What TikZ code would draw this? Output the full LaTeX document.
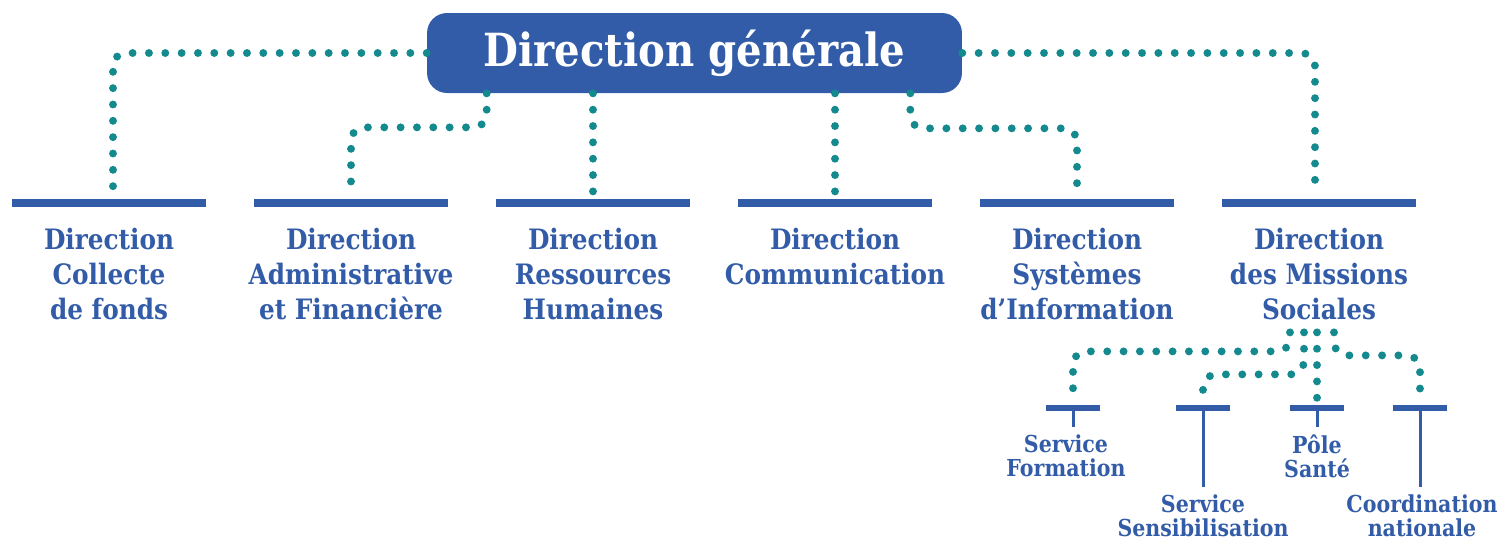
\documentclass[tikz,border=0pt]{standalone}
\usepackage{fontspec}
\setmainfont{DejaVu Serif}[FakeStretch=0.88]
\usetikzlibrary{calc}
\definecolor{bleu}{HTML}{335CA8}
\definecolor{sarcelle}{HTML}{148A8F}
\tikzset{%
	pointille/.style={draw=sarcelle, line width=4.5pt, line cap=round, dash pattern=on 0pt off 9.3pt, rounded corners=0.26cm},%
	titre/.style={fill=bleu, rounded corners=0.4cm, minimum width=10.7cm, minimum height=1.6cm, inner sep=0pt, text=white, font=\bfseries\fontsize{26}{30}\selectfont},%
	barre/.style={fill=bleu, inner sep=0pt, minimum width=3.88cm, minimum height=0.16cm},%
	petitebarre/.style={fill=bleu, inner sep=0pt, minimum width=1.08cm, minimum height=0.12cm},%
	direction/.style={text=bleu, align=center, inner sep=0pt, font=\bfseries\fontsize{16}{19.9}\selectfont},%
	service/.style={text=bleu, align=center, inner sep=0pt, font=\bfseries\fontsize{13.3}{13.7}\selectfont},%
	tige/.style={draw=bleu, line width=1.7pt}%
}

\begin{document}
\begin{tikzpicture}[x=0.02cm, y=-0.02cm] % organigramme
\useasboundingbox (0,0) rectangle (1499,539);
\node[titre] (dg) at (694.5,53) {Direction générale};
\foreach \i/\cx/\texte in%
{%
	1/109/{Direction\\Collecte\\de fonds},%
	2/351/{Direction\\Administrative\\et Financière},%
	3/593/{Direction\\Ressources\\Humaines},%
	4/835/{Direction\\Communication},%
	5/1077/{Direction\\Systèmes\\d’Information},%
	6/1319/{Direction\\des Missions\\Sociales}%
}{%
	\node[barre] (b\i) at (\cx,203) {};
	\node[direction, anchor=north] (d\i) at (\cx,228) {\texte};
}%
\foreach \i/\cx/\tx/\bas/\texte in%
{%
	1/1073/1066/434/{Service\\Formation},%
	2/1203/1203/494/{Service\\Sensibilisation},%
	3/1317/1317/434/{Pôle\\Santé},%
	4/1420/1422/494/{Coordination\\nationale}%
}{%
	\node[petitebarre] (s\i) at (\cx,408) {};
	\node[service, anchor=north] (t\i) at (\tx,\bas) {\texte};
	\draw[tige] (s\i.south) -- ([yshift=0.14cm]t\i.north -| s\i.south);
}%
% liaisons
\draw[pointille, shorten >=0.1cm] (dg.west) -| ([xshift=0.08cm]b1.north);
\draw[pointille, shorten >=0.1cm] ([xshift=1.2cm]dg.south west) -- ++(0,34) -| (b2.north);
\draw[pointille, shorten >=0.1cm] (b3.north |- dg.south) -- (b3.north);
\draw[pointille, shorten >=0.1cm] (b4.north |- dg.south) -- (b4.north);
\draw[pointille, shorten >=0.1cm] ([xshift=-1.04cm]dg.south east) -- ++(0,35) -| (b5.north);
\draw[pointille, shorten >=0.1cm] (dg.east) -| ([xshift=-0.08cm]b6.north);
\draw[pointille, shorten >=0.12cm] ([xshift=-0.58cm,yshift=-0.24cm]d6.south) -- ++(0,19) -| (s1.north);
\draw[pointille, shorten >=0.12cm] ([xshift=-0.30cm,yshift=-0.24cm]d6.south) -- ++(0,42) -| (s2.north);
\draw[pointille, shorten >=0.12cm] ([yshift=-0.24cm]d6.south -| s3.north) -- (s3.north);
\draw[pointille, shorten >=0.12cm] ([xshift=0.30cm,yshift=-0.24cm]d6.south) -- ++(0,23) -| (s4.north);
\end{tikzpicture}
\end{document}
